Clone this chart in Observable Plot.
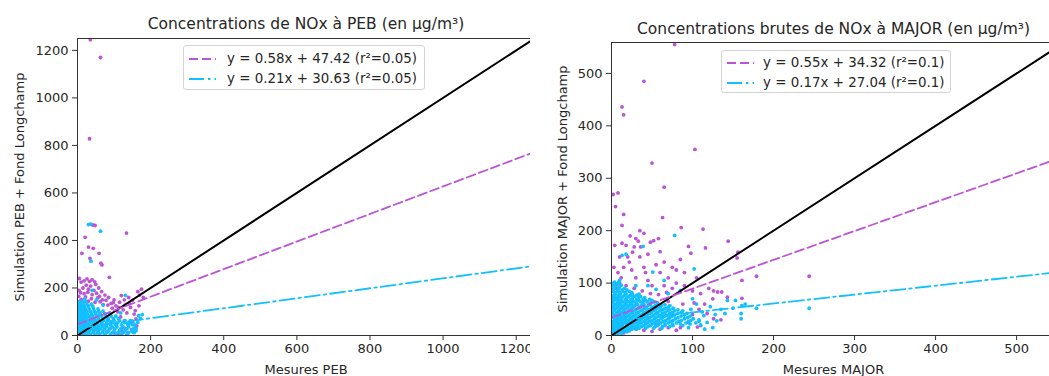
<!DOCTYPE html>
<html>
<head>
<meta charset="utf-8">
<script src="https://cdn.jsdelivr.net/npm/d3@7"></script>
<script src="https://cdn.jsdelivr.net/npm/@observablehq/plot@0.6"></script>
<style>
  html, body { margin: 0; padding: 0; background: #fff; overflow: hidden; }
  #root { position: relative; width: 1049px; height: 376px; overflow: hidden; font-family: "DejaVu Sans", sans-serif; }
  .panel { position: absolute; top: 0; }
  .legend { position: absolute; border: 1px solid #d4d4d4; border-radius: 3px; background: rgba(255,255,255,0.85); box-sizing: border-box; }
  .legend .row { position: absolute; left: 0; height: 20px; }
  .legend svg { position: absolute; left: 4px; top: 0; }
  .legend span { position: absolute; font-size: 13.4px; color: #262626; white-space: nowrap; line-height: 20px; top: 0; }
</style>
</head>
<body>
<div id="root"></div>
<script>
// ---------- Panel 1 : PEB ----------
const pebTitle = "Concentrations de NOx à PEB (en µg/m³)";
const pebXLabel = "Mesures PEB";
const pebYLabel = "Simulation PEB + Fond Longchamp";
const pebTicks = [0, 200, 400, 600, 800, 1000, 1200];
const pebExtent = [0, 1250];
const pebSlopes = [0.58, 0.21];
const pebIntercepts = [47.42, 30.63];
const pebR2 = [0.05, 0.05];

// purple series (PEB)
const pebPurple = [
  [35,1245],[63,1170],[33,828],[42,465],[48,463],[134,431],[21,413],[12,346],[30,372],[43,367],[59,346],[34,325],[64,304],[67,297],[87,245],
  [5,240],[10,225],[18,230],[26,238],[33,228],[40,235],[47,226],[24,212],[36,208],[50,215],[58,200],[15,200],[30,195],[45,190],[66,185],[75,170],[4,190],
  [60,165],[85,160],[100,150],[115,140],[130,128],[145,118],[165,185],[175,195],[170,170],[150,148],[140,160],[120,168],[105,125],[92,135],[78,148],
  [55,158],[40,172],[22,162],[10,152],[30,145],[48,140],[70,130],[95,115],[110,100],[125,108],[135,95],[155,90],[160,70],[150,60],[140,48],[130,30],
  [120,20],[100,10],[80,15],[60,6],[45,20],[162,40],[148,25],[112,5],[90,30],[138,12],[128,62],[118,78],[8,180],[18,176],[28,182],[52,178],[68,150],
  [83,128],[98,138],[112,118],[128,150],[142,135],[158,105],[168,125],[180,160],[3,165],[14,140],[38,155],[62,142],[2,120],[6,100],[20,110],[1,60]
];
// cyan series (PEB): rows of [y, [x...]] plus isolated points
const pebCyanRows = [
  [5,  [2,8,15,25,35,48,60,75,90,105,120,135]],
  [12, [3,10,20,30,42,55,68,80,95,110,125,140,155]],
  [20, [1,6,14,22,33,45,58,70,85,100,115,130,148,160]],
  [28, [4,12,19,28,38,50,62,75,88,102,118,135,152]],
  [36, [2,9,17,26,35,46,57,68,80,95,108,125,140,158]],
  [45, [5,13,21,30,40,52,64,76,90,104,120,138,150]],
  [54, [1,8,16,24,33,44,55,67,80,93,110,128,145]],
  [63, [4,11,19,28,38,49,60,72,85,100,115,130]],
  [72, [2,9,17,25,35,46,57,70,84,98,112]],
  [82, [6,13,22,31,42,53,65,78,92,105]],
  [92, [3,10,18,27,38,50,62,75,88]],
  [102,[1,8,16,25,35,46,58,70]],
  [112,[5,13,22,32,44,56]],
  [122,[2,10,19,30,42]],
  [132,[6,15,26,38]],
  [142,[3,12,22]]
];
const pebCyanExtra = [
  [36,469],[30,467],[63,439],[37,313],[40,190],[131,169],[177,88],[167,84],[172,72],[160,30],[155,48],[52,150],[20,155],[70,128],[145,62],[165,55],[118,95],
  [8,40],[18,52],[27,33],[44,61],[53,27],[66,49],[79,38],[91,58],[107,44],[122,31],[137,52],[152,14],[24,88],[36,77],[49,96],[12,118],[58,84],[82,67]
];

// ---------- Panel 2 : MAJOR ----------
const majTitle = "Concentrations brutes de NOx à MAJOR (en µg/m³)";
const majXLabel = "Mesures MAJOR";
const majYLabel = "Simulation MAJOR + Fond Longchamp";
const majTicks = [0, 100, 200, 300, 400, 500];
const majXExtent = [0, 548];
const majYExtent = [0, 559];
const majSlopes = [0.55, 0.17];
const majIntercepts = [34.32, 27.04];
const majR2 = [0.1, 0.1];

const majPurple = [
  [78,555],[40,485],[13,436],[15,421],[103,355],[50,329],[65,283],[2,269],[8,272],[5,246],[15,231],[63,225],[86,206],[13,210],[98,157],
  [113,203],[144,180],[116,167],[155,148],[156,159],[161,105],[179,113],[244,113],[161,71],[126,85],[131,83],[136,83],[143,73],[126,32],[106,16],[110,19],
  [13,176],[4,172],[18,172],[28,169],[36,169],[48,178],[52,181],[26,159],[30,185],[33,180],[20,150],[22,140],[35,150],[45,155],[10,150],[15,130],
  [25,125],[40,130],[55,135],[60,120],[70,110],[8,120],[30,110],[45,105],[50,95],[65,95],[80,100],[90,95],[100,85],[110,80],[120,90],[80,125],
  [85,145],[60,160],[40,195],[95,170],[105,110],[115,60],[125,70],[108,50],[100,40],[95,25],[80,10],[70,15],[60,12],[50,8],[40,10],[30,12],
  [20,10],[15,5],[25,18],[55,20],[85,15],[10,100],[18,95],[28,90],[38,85],[48,80],[58,78],[68,82],[75,90],[90,120],[75,130],[65,140],[42,120],
  [12,110],[3,130],[6,90],[2,75],[35,200],[23,190],[58,185],[70,65],[88,60],[102,62],[118,42],[135,30]
];
const majCyanRows = [
  [4,  [1,4,8,12]],
  [9,  [2,6,11,16,22]],
  [14, [1,5,10,15,21,27,34,42,52,62]],
  [19, [3,8,13,19,25,32,40,48,57,66,76,88]],
  [24, [1,6,11,17,23,30,37,45,53,61,70,80,92,104]],
  [29, [4,9,15,21,28,35,42,50,58,67,76,86,98]],
  [34, [2,7,12,18,25,32,39,47,55,63,72,82,94]],
  [39, [5,10,16,22,29,36,44,52,60,69,78,90]],
  [44, [1,7,13,19,26,33,41,49,57,66,75,86]],
  [49, [4,10,16,23,30,38,46,54,63,72,82]],
  [54, [2,8,14,20,27,35,43,51,60,70]],
  [59, [5,11,18,25,32,40,48,57,66]],
  [64, [1,7,14,21,28,36,44,53]],
  [69, [4,10,17,24,31,39,47]],
  [74, [2,8,14,21,28,36]],
  [79, [5,11,18,26,34]],
  [84, [1,7,14,22]],
  [90, [3,9,16]],
  [96, [1,6,12]],
  [102,[4,9]]
];
const majCyanRows2 = [
  [7,  [3,7,14,19]],
  [12, [4,9,13,19,25,31]],
  [17, [2,7,12,18,24,30,37,45,54,63,72]],
  [22, [4,9,14,20,27,34,42,50,58,66,75,85,97]],
  [27, [2,7,13,19,26,33,40,47,55,64,73,83,95,108]],
  [32, [5,10,16,23,30,37,45,53,61,70,79,90,101]],
  [37, [3,8,14,20,27,34,41,50,58,66,75,86,97]],
  [42, [1,6,11,17,24,31,39,47,55,63,72,82,93]],
  [47, [3,9,15,21,28,36,44,52,60,69,78,88]],
  [52, [1,6,12,18,25,33,41,49,57,66,76]],
  [57, [3,9,15,22,29,37,45,54,62,72]],
  [62, [2,8,11,17,24,31,39,48,57]],
  [67, [2,7,12,19,26,34,42,50]],
  [72, [1,6,12,19,26,33,41]],
  [77, [3,9,16,23,31]],
  [82, [4,10,17,25]],
  [87, [2,8,13,19]],
  [93, [4,10]],
  [99, [2,7]]
];
const majCyanExtra = [
  [108,30],[112,45],[118,25],[122,55],[128,40],[135,50],[140,42],[143,67],[150,52],[153,67],[160,42],[160,32],[161,57],[114,38],[179,52],[244,52],
  [102,127],[100,70],[105,60],[110,20],[125,15],[130,28],[115,12],[165,60],[98,50],[95,15],
  [78,191],[13,153],[18,155],[39,170],[51,121],[65,105],[85,86],[3,100],[10,105],[45,95],[55,88],[70,80],[30,95]
];

// ---------- colours ----------
const purple = "#bb55d6";
const cyan = "#12bfff";

// ---------- build ----------
const expandRows = rows => rows.flatMap(([y, xs]) => xs.map(x => [x, y]));

function panel(o) {
  const fits = o.slopes.map((s, i) => [o.xExtent[0], o.xExtent[1]].map(x => ({x, y: s * x + o.intercepts[i]})));
  const diag = [o.xExtent[0], Math.max(o.xExtent[1], o.yExtent[1])].map(v => ({x: v, y: v}));
  return Plot.plot({
    width: o.width, height: 376,
    marginLeft: o.ml, marginRight: o.mr, marginTop: o.mt, marginBottom: o.mb,
    x: {domain: o.xExtent},
    y: {domain: o.yExtent},
    style: {fontFamily: "DejaVu Sans, sans-serif", fontSize: "13px", color: "#262626", background: "white", overflow: "visible"},
    marks: [
      Plot.axisX({ticks: o.ticks, tickSize: 5, tickPadding: 3, label: null, tickFormat: d => String(d), stroke: "#333"}),
      Plot.axisY({ticks: o.ticks, tickSize: 5, tickPadding: 4, label: null, tickFormat: d => String(d), stroke: "#333"}),
      Plot.dot(o.purple, {x: d => d[0], y: d => d[1], r: 1.9, fill: purple, stroke: null, clip: true}),
      Plot.dot(o.cyan, {x: d => d[0], y: d => d[1], r: 1.9, fill: cyan, stroke: null, clip: true}),
      Plot.line(diag, {x: "x", y: "y", stroke: "black", strokeWidth: 2, clip: true}),
      Plot.line(fits[0], {x: "x", y: "y", stroke: purple, strokeWidth: 1.8, strokeDasharray: "9,4", clip: true}),
      Plot.line(fits[1], {x: "x", y: "y", stroke: cyan, strokeWidth: 1.8, strokeDasharray: "15,4,2.5,4", clip: true}),
      Plot.frame({stroke: "#333", strokeWidth: 1}),
      Plot.text([o.title], {frameAnchor: "top", textAnchor: "middle", dy: o.titleDy, fontSize: 15.5, fill: "#262626", lineAnchor: "middle"}),
      Plot.text([o.xLabel], {frameAnchor: "bottom", textAnchor: "middle", dy: 34, fontSize: 13, fill: "#262626", lineAnchor: "middle"}),
      Plot.text([o.yLabel], {frameAnchor: "left", textAnchor: "middle", dx: o.yLabelDx, rotate: -90, fontSize: 13, fill: "#262626", lineAnchor: "middle"})
    ]
  });
}

const root = document.getElementById("root");

const p1 = panel({
  width: 540, ml: 77, mr: 6, mt: 38, mb: 41,
  xExtent: pebExtent, yExtent: pebExtent, ticks: pebTicks,
  slopes: pebSlopes, intercepts: pebIntercepts,
  purple: pebPurple, cyan: expandRows(pebCyanRows).concat(pebCyanExtra),
  title: pebTitle, xLabel: pebXLabel, yLabel: pebYLabel, titleDy: -14, yLabelDx: -58
});
p1.classList.add("panel"); p1.style.left = "0px";
root.appendChild(p1);

const p2 = panel({
  width: 525, ml: 81, mr: 0, mt: 42, mb: 41,
  xExtent: majXExtent, yExtent: majYExtent, ticks: majTicks,
  slopes: majSlopes, intercepts: majIntercepts,
  purple: majPurple, cyan: expandRows(majCyanRows).concat(expandRows(majCyanRows2), majCyanExtra),
  title: majTitle, xLabel: majXLabel, yLabel: majYLabel, titleDy: -13, yLabelDx: -49
});
p2.classList.add("panel"); p2.style.left = "530px";
root.appendChild(p2);

// ---------- legends ----------
function legend(left, top, w, h, rows, textLeft, slopes, intercepts, r2) {
  const div = document.createElement("div");
  div.className = "legend";
  Object.assign(div.style, {left: left + "px", top: top + "px", width: w + "px", height: h + "px"});
  const styles = [{c: purple, d: "9,4"}, {c: cyan, d: "15,4,2.5,4"}];
  slopes.forEach((s, i) => {
    const row = document.createElement("div");
    row.className = "row";
    row.style.top = (rows[i] - 10) + "px";
    row.style.width = w + "px";
    row.innerHTML = `<svg width="30" height="20"><line x1="1" x2="28" y1="10" y2="10" stroke="${styles[i].c}" stroke-width="1.8" stroke-dasharray="${styles[i].d}"/></svg>` +
      `<span style="left:${textLeft}px">y = ${s}x + ${intercepts[i].toFixed(2)} (r²=${r2[i]})</span>`;
    div.appendChild(row);
  });
  root.appendChild(div);
}
legend(183, 45, 242, 45, [13, 33], 43, pebSlopes, pebIntercepts, pebR2);
legend(721, 50, 230, 43, [12, 32], 41, majSlopes, majIntercepts, majR2);
</script>
</body>
</html>
